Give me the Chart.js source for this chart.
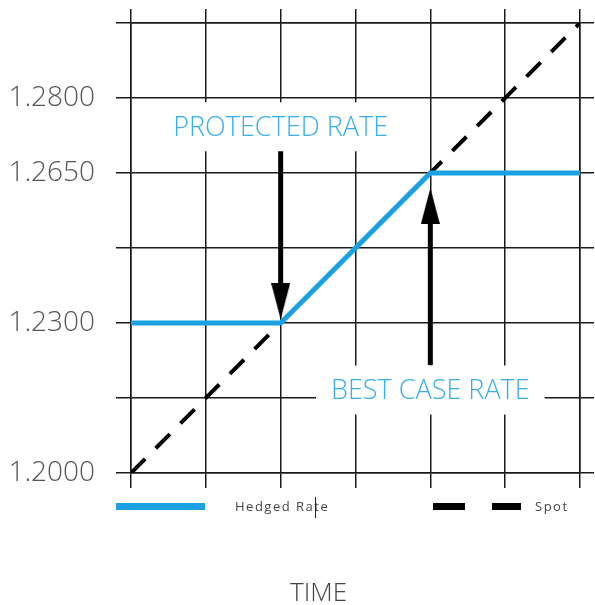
<!DOCTYPE html>
<html>
<head>
<meta charset="utf-8">
<script src="https://cdn.jsdelivr.net/npm/chart.js@4/dist/chart.umd.min.js"></script>
<style>
    body { margin: 0; background: #fff; }
    .wrap { position: relative; width: 595px; height: 605px; }
    .legend-line { position: absolute; height: 7px; }
    .legend-text { position: absolute; font-family: "Open Sans", sans-serif; font-size: 13px; letter-spacing: 1.5px; color: #444; }
    .axis-title { position: absolute; font-family: "Open Sans", sans-serif; font-weight: 300; font-size: 26px; color: #444; }
</style>
</head>
<body>
<div class="wrap">
    <canvas id="hedgeChart" width="595" height="605"></canvas>
    <div class="legend-line" style="left:116px; top:503px; width:89px; background:#1ba1e2;"></div>
    <div class="legend-text" style="left:235px; top:497px;">Hedged Rate</div>
    <div style="position:absolute; left:315px; top:497px; width:1px; height:21px; background:#222;"></div>
    <div class="legend-line" style="left:433px; top:503px; width:32px; background:#000;"></div>
    <div class="legend-line" style="left:492px; top:503px; width:29px; background:#000;"></div>
    <div class="legend-text" style="left:535px; top:497px;">Spot</div>
    <div class="axis-title" style="left:290px; top:573px;">TIME</div>
</div>
<script>
// grid steps along time and rate (schematic, one unit per grid cell)
const timeSteps = [0, 1, 2, 3, 4, 5, 6];
const rateLabels = ['1.2000', '', '1.2300', '', '1.2650', '1.2800', ''];

// series (x = time step, y = rate level)
const spotTime = [0, 6];
const spotLevel = [0, 6];
const hedgedTime = [0, 2, 4, 6];
const hedgedLevel = [2, 2, 4, 4];

// arrows: [start level, head level] at a time step
const protectedArrowTime = 2;
const protectedArrowLevel = [4.35, 2.29];
const bestArrowTime = 4;
const bestArrowLevel = [1.44, 3.56];

// call-out labels
const noteText = ['PROTECTED RATE', 'BEST CASE RATE'];
const noteTime = [2, 4];
const noteLevel = [4.61, 1.1];

const gridColor = '#1a1a1a';
const blue = '#1ba1e2';

function toPoints(xs, ys) {
    return xs.map((x, i) => ({ x: x, y: ys[i] }));
}

// narrow arrow head drawn once on a small canvas, used as point style
function arrowHead(up) {
    const c = document.createElement('canvas');
    c.width = 19; c.height = 36;
    const g = c.getContext('2d');
    g.fillStyle = '#000';
    g.beginPath();
    if (up) {
        g.moveTo(9.5, 0); g.lineTo(19, 36); g.lineTo(0, 36);
    } else {
        g.moveTo(0, 0); g.lineTo(19, 0); g.lineTo(9.5, 36);
    }
    g.closePath();
    g.fill();
    return c;
}
const headDown = arrowHead(false);
const headUp = arrowHead(true);

function arrowDataset(x, levels, head) {
    return {
        label: 'arrow',
        data: toPoints([x, x], levels),
        borderColor: '#000',
        borderWidth: 5,
        pointRadius: c => c.dataIndex === 1 ? 10 : 0,
        pointStyle: c => c.dataIndex === 1 ? head : 'circle',
        pointHoverRadius: 0
    };
}

// white boxes with blue text, drawn over the grid
const notesPlugin = {
    id: 'notes',
    afterDraw(chart) {
        const ctx = chart.ctx;
        const xs = chart.scales.x, ys = chart.scales.y;
        ctx.save();
        ctx.font = '300 27px "Open Sans", sans-serif';
        ctx.textAlign = 'center';
        ctx.textBaseline = 'middle';
        noteText.forEach((t, i) => {
            const px = xs.getPixelForValue(noteTime[i]);
            const py = ys.getPixelForValue(noteLevel[i]);
            const w = ctx.measureText(t).width + 30;
            ctx.fillStyle = '#fff';
            ctx.fillRect(px - w / 2, py - 25, w, 49);
            ctx.fillStyle = '#3aaee8';
            ctx.fillText(t, px, py + 1);
        });
        ctx.restore();
    }
};

const gridOpts = { color: gridColor, lineWidth: 1.5, tickColor: gridColor, tickWidth: 1.5 };

function noPad(s) {
    s.paddingTop = 0; s.paddingBottom = 0; s.paddingLeft = 0; s.paddingRight = 0;
}

const ctx = document.getElementById('hedgeChart').getContext('2d');
const hedgeChart = new Chart(ctx, {
    type: 'line',
    data: {
        datasets: [
            arrowDataset(protectedArrowTime, protectedArrowLevel, headDown),
            arrowDataset(bestArrowTime, bestArrowLevel, headUp),
            {
                label: 'Hedged Rate',
                data: toPoints(hedgedTime, hedgedLevel),
                borderColor: blue,
                borderWidth: 5,
                pointRadius: 0,
                borderJoinStyle: 'miter'
            },
            {
                label: 'Spot',
                data: toPoints(spotTime, spotLevel),
                borderColor: '#000',
                borderWidth: 4,
                borderDash: [20, 15],
                pointRadius: 0
            }
        ]
    },
    options: {
        responsive: false,
        animation: false,
        layout: { padding: { top: 9, left: 0, right: 0, bottom: 0 } },
        plugins: { legend: { display: false }, tooltip: { enabled: false } },
        scales: {
            x: {
                type: 'linear', min: 0, max: 6, z: 1,
                afterBuildTicks: s => { s.ticks = timeSteps.map(v => ({ value: v })); },
                ticks: { display: false },
                grid: Object.assign({ tickLength: 15 }, gridOpts),
                border: { color: gridColor, width: 1.5 },
                afterFit: s => { s.height = 132; noPad(s); }
            },
            x2: {
                type: 'linear', position: 'top', min: 0, max: 6, z: 1,
                afterBuildTicks: s => { s.ticks = timeSteps.map(v => ({ value: v })); },
                ticks: { display: false },
                grid: Object.assign({ tickLength: 14, drawOnChartArea: false }, gridOpts),
                border: { color: gridColor, width: 1.5 },
                afterFit: s => { s.height = 14; noPad(s); }
            },
            y: {
                type: 'linear', min: 0, max: 6, z: 1,
                afterBuildTicks: s => { s.ticks = timeSteps.map(v => ({ value: v })); },
                ticks: {
                    autoSkip: false,
                    padding: 21,
                    color: '#555',
                    font: { family: 'Open Sans', size: 28, weight: '300' },
                    callback: v => rateLabels[v]
                },
                grid: Object.assign({ tickLength: 15 }, gridOpts),
                border: { color: gridColor, width: 1.5 },
                afterFit: s => { s.width = 131; noPad(s); }
            },
            y2: {
                type: 'linear', position: 'right', min: 0, max: 6, z: 1,
                afterBuildTicks: s => { s.ticks = timeSteps.map(v => ({ value: v })); },
                ticks: { display: false },
                grid: Object.assign({ tickLength: 14, drawOnChartArea: false }, gridOpts),
                border: { color: gridColor, width: 1.5 },
                afterFit: s => { s.width = 14; noPad(s); }
            }
        }
    },
    plugins: [notesPlugin]
});
</script>
</body>
</html>
